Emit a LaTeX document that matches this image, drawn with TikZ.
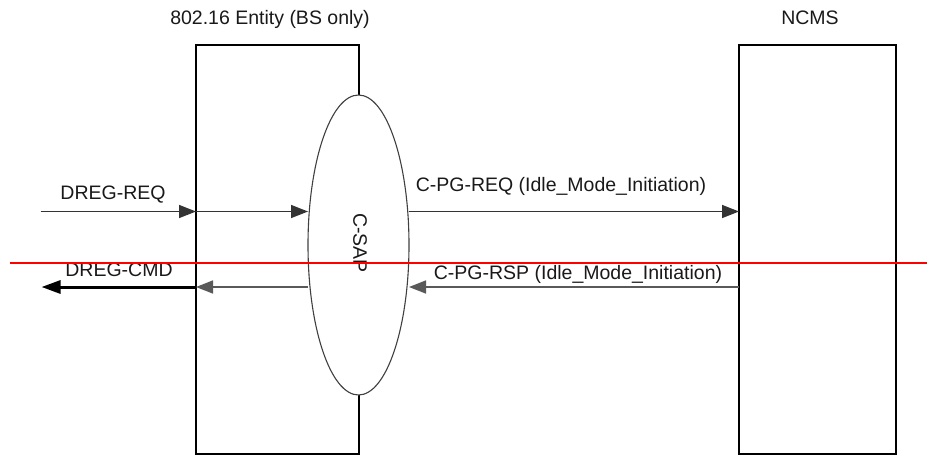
\documentclass[tikz,border=0pt]{standalone}
\usepackage{fontspec}
\setmainfont{Liberation Sans}
\usetikzlibrary{arrows.meta,shapes.geometric}
\begin{document}
\begin{tikzpicture}[x=1pt,y=-1pt,
  box/.style={draw=black,line width=2.4pt,rectangle,inner sep=0pt,outer sep=0pt},
  sap/.style={draw=black!75,line width=1.1pt,fill=white,ellipse,inner sep=0pt,outer sep=0pt,minimum width=101pt,minimum height=300pt},
  msg/.style={draw=black!80,line width=1.6pt,-{Triangle[length=17pt,width=13pt]}},
  retmsg/.style={msg,draw=black!65},
  bigmsg/.style={draw=black,line width=3pt,-{Triangle[length=19pt,width=13pt]}},
  lbl/.style={font=\fontsize{19.5}{23}\selectfont,inner sep=0pt,anchor=base,text=black!90},
  marker/.style={draw=red,line width=2pt}
]
\useasboundingbox (0,0) rectangle (927,456);

% entities
\node[box,minimum width=163pt,minimum height=409pt] (bs) at (277.5,249.4) {};
\node[box,minimum width=157pt,minimum height=409pt] (ncms) at (817.5,249.4) {};
\node[sap] (csap) at (358.5,245) {};
\node[lbl,anchor=center,rotate=-90] (csaplbl) at (360,243) {C-SAP};

% titles
\node[lbl] (bstitle) at (270,24) {802.16 Entity (BS only)};
\node[lbl] (ncmstitle) at (810,24) {NCMS};

% message rows
\coordinate (reqin) at (40.7,211.5);
\coordinate (cmdout) at (41.5,287);

\draw[msg] (reqin) -- (bs.west |- reqin);
\draw[msg] (bs.west |- reqin) -- (csap.west |- reqin);
\draw[msg] (csap.east |- reqin) -- (ncms.west |- reqin);

\draw[retmsg] (ncms.west |- cmdout) -- (csap.east |- cmdout);
\draw[retmsg] (csap.west |- cmdout) -- (bs.west |- cmdout);
\draw[bigmsg] (bs.west |- cmdout) -- (cmdout);

% labels
\node[lbl] (lreq) at (113,199) {DREG-REQ};
\node[lbl] (lcmd) at (119,276) {DREG-CMD};
\node[lbl] (lpgreq) at (561,191) {C-PG-REQ (Idle\_Mode\_Initiation)};
\node[lbl] (lpgrsp) at (578,279) {C-PG-RSP (Idle\_Mode\_Initiation)};

% red marker line
\coordinate (redl) at (10,263);
\coordinate (redr) at (927,263);
\draw[marker] (redl) -- (redr);
\end{tikzpicture}
\end{document}
